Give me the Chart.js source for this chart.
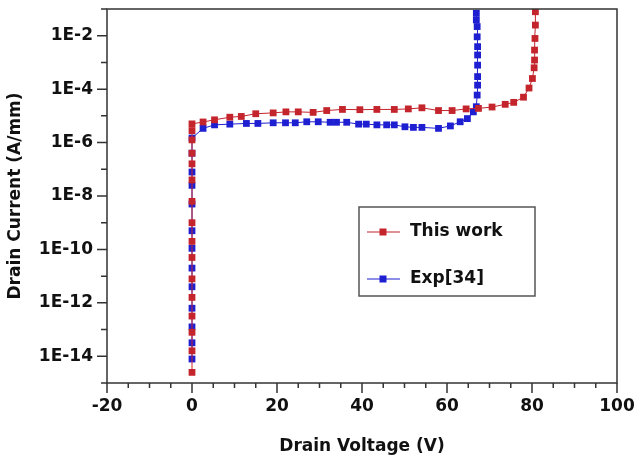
<!DOCTYPE html>
<html>
<head>
<meta charset="utf-8">
<script src="https://cdn.jsdelivr.net/npm/chart.js@4/dist/chart.umd.min.js"></script>
<style>
html,body{margin:0;padding:0;background:#fff;}
canvas{display:block;}
</style>
</head>
<body>
<canvas id="c" width="635" height="461"></canvas>
<script>
// ---- data (Drain Voltage in V, Drain Current in A/mm) ----
const seriesNames = ['This work', 'Exp[34]'];

const thisWorkV = [
  0,0,0,0,0,0,0,0,0,0,0,0,0,0,0,0,
  2.6,5.3,8.9,11.6,15.0,19.1,22.1,25.0,28.5,31.7,35.4,39.5,43.5,47.6,50.9,54.1,58.0,61.2,64.5,67.4,70.6,73.7,75.7,78.0,
  79.3,80.1,80.5,80.6,80.6,80.7,80.8,80.8
];
const thisWorkI = [
  2.5e-15,1.6e-14,7.9e-14,3.2e-13,1.6e-12,7.9e-12,5.0e-11,2.0e-10,1.0e-9,6.3e-9,4.0e-8,1.6e-7,4.0e-7,1.26e-6,2.8e-6,5.0e-6,
  5.9e-6,7.1e-6,8.9e-6,9.5e-6,1.2e-5,1.29e-5,1.41e-5,1.41e-5,1.35e-5,1.58e-5,1.74e-5,1.70e-5,1.74e-5,1.74e-5,1.82e-5,2.0e-5,1.58e-5,1.58e-5,1.82e-5,1.9e-5,2.14e-5,2.7e-5,3.2e-5,5.0e-5,
  1.1e-4,2.5e-4,6.3e-4,1.23e-3,2.9e-3,7.9e-3,2.5e-2,7.9e-2
];

const expV = [
  0,0,0,0,0,0,0,0,0,0,0,0,0,
  2.6,5.3,8.9,12.8,15.5,19.1,22.0,24.3,27.0,29.7,32.5,34.0,36.4,39.2,41.0,43.5,45.8,47.6,50.1,52.1,54.1,58.0,60.8,63.1,64.8,66.2,66.9,
  67.1,67.2,67.2,67.2,67.2,67.2,67.1,67.1,66.9,66.9
];
const expI = [
  7.9e-15,3.2e-14,1.26e-13,6.3e-13,4.0e-12,2.0e-11,1.1e-10,5.0e-10,5.0e-9,2.5e-8,7.9e-8,4.0e-7,1.48e-6,
  3.4e-6,4.6e-6,4.9e-6,5.2e-6,5.2e-6,5.5e-6,5.5e-6,5.5e-6,6.0e-6,6.0e-6,5.75e-6,5.75e-6,5.75e-6,4.9e-6,4.9e-6,4.6e-6,4.6e-6,4.6e-6,3.9e-6,3.7e-6,3.7e-6,3.4e-6,4.2e-6,6.0e-6,7.9e-6,1.41e-5,2.2e-5,
  6.0e-5,1.41e-4,2.95e-4,7.9e-4,1.9e-3,3.9e-3,9.1e-3,2.2e-2,3.9e-2,6.9e-2
];

const xTickValues = [-20,-15,-10,-5,0,5,10,15,20,25,30,35,40,45,50,55,60,65,70,75,80,85,90,95,100];
const xTickLabels = ['-20','','','','0','','','','20','','','','40','','','','60','','','','80','','','','100'];
const yTickValues = [1e-15,1e-14,1e-13,1e-12,1e-11,1e-10,1e-9,1e-8,1e-7,1e-6,1e-5,1e-4,1e-3,1e-2,1e-1];
const yTickLabels = ['','1E-14','','1E-12','','1E-10','','1E-8','','1E-6','','1E-4','','1E-2',''];

const redColor = '#c4242b';
const blueColor = '#1f1fd2';
const fontFamily = '"DejaVu Sans", sans-serif';

function pts(xs, ys){ return xs.map((x,i)=>({x:x, y:ys[i]})); }

const frameAndTicks = {
  id: 'frameAndTicks',
  afterDraw(chart){
    const {ctx, chartArea:a, scales} = chart;
    ctx.save();
    ctx.strokeStyle = '#333';
    ctx.lineWidth = 1.5;
    ctx.strokeRect(a.left, a.top, a.right - a.left, a.bottom - a.top);
    ctx.beginPath();
    xTickValues.forEach((v,i)=>{
      const px = scales.x.getPixelForValue(v);
      const len = xTickLabels[i] !== '' ? 10 : 5;
      ctx.moveTo(px, a.bottom); ctx.lineTo(px, a.bottom + len);
    });
    yTickValues.forEach((v,i)=>{
      const py = scales.y.getPixelForValue(v);
      const len = yTickLabels[i] !== '' ? 10 : 6;
      ctx.moveTo(a.left, py); ctx.lineTo(a.left - len, py);
    });
    ctx.stroke();

    // legend box
    const bx = 359, by = 207, bw = 176, bh = 89;
    ctx.strokeStyle = '#555';
    ctx.lineWidth = 1.5;
    ctx.strokeRect(bx, by, bw, bh);
    const items = [
      {label: seriesNames[0], color: redColor, y: 232},
      {label: seriesNames[1], color: blueColor, y: 279}
    ];
    items.forEach(it=>{
      ctx.strokeStyle = it.color;
      ctx.lineWidth = 1.2;
      ctx.beginPath();
      ctx.moveTo(367, it.y); ctx.lineTo(400, it.y);
      ctx.stroke();
      ctx.fillStyle = it.color;
      ctx.fillRect(383 - 3.5, it.y - 3.5, 7, 7);
      ctx.fillStyle = '#111';
      ctx.font = 'bold 17px ' + fontFamily;
      ctx.textBaseline = 'middle';
      ctx.textAlign = 'left';
      ctx.fillText(it.label, 410, it.y);
    });
    ctx.restore();
  }
};

new Chart(document.getElementById('c'), {
  type: 'line',
  data: {
    datasets: [
      {
        label: seriesNames[0],
        data: pts(thisWorkV, thisWorkI),
        borderColor: redColor,
        backgroundColor: redColor,
        borderWidth: 1,
        pointStyle: 'rect',
        pointRadius: 4.8,
        pointBorderWidth: 0,
        tension: 0
      },
      {
        label: seriesNames[1],
        data: pts(expV, expI),
        borderColor: blueColor,
        backgroundColor: blueColor,
        borderWidth: 1,
        pointStyle: 'rect',
        pointRadius: 4.8,
        pointBorderWidth: 0,
        tension: 0
      }
    ]
  },
  options: {
    responsive: false,
    animation: false,
    devicePixelRatio: 1,
    layout: { padding: { top: 9, right: 18, left: 0, bottom: 0 } },
    plugins: { legend: { display: false }, tooltip: { enabled: false } },
    scales: {
      x: {
        type: 'linear',
        min: -20, max: 100,
        afterBuildTicks(scale){ scale.ticks = xTickValues.map(v=>({value:v})); },
        afterFit(scale){ scale.height = 78; scale.paddingLeft = 0; scale.paddingRight = 0; },
        grid: { display: false, drawTicks: false },
        border: { display: false },
        ticks: {
          autoSkip: false, maxRotation: 0, padding: 13,
          color: '#111',
          font: { family: fontFamily, size: 17, weight: 'bold' },
          callback(v){ const i = xTickValues.indexOf(v); return i >= 0 ? xTickLabels[i] : ''; }
        },
        title: {
          display: true, text: 'Drain Voltage (V)', color: '#111',
          font: { family: fontFamily, size: 17, weight: 'bold' },
          padding: { top: 0, bottom: 4 }
        }
      },
      y: {
        type: 'logarithmic',
        min: 1e-15, max: 1e-1,
        afterBuildTicks(scale){ scale.ticks = yTickValues.map(v=>({value:v})); },
        afterFit(scale){ scale.width = 107; scale.paddingTop = 0; scale.paddingBottom = 0; },
        grid: { display: false, drawTicks: false },
        border: { display: false },
        ticks: {
          autoSkip: false, padding: 14,
          color: '#111',
          font: { family: fontFamily, size: 17, weight: 'bold' },
          callback(v){
            let idx = -1;
            yTickValues.forEach((t,i)=>{ if (Math.abs(Math.log10(t) - Math.log10(v)) < 1e-6) idx = i; });
            return idx >= 0 ? yTickLabels[idx] : '';
          }
        },
        title: {
          display: true, text: 'Drain Current (A/mm)', color: '#111',
          font: { family: fontFamily, size: 17, weight: 'bold' },
          padding: { top: 5, bottom: 0 }
        }
      }
    }
  },
  plugins: [frameAndTicks]
});
</script>
</body>
</html>
